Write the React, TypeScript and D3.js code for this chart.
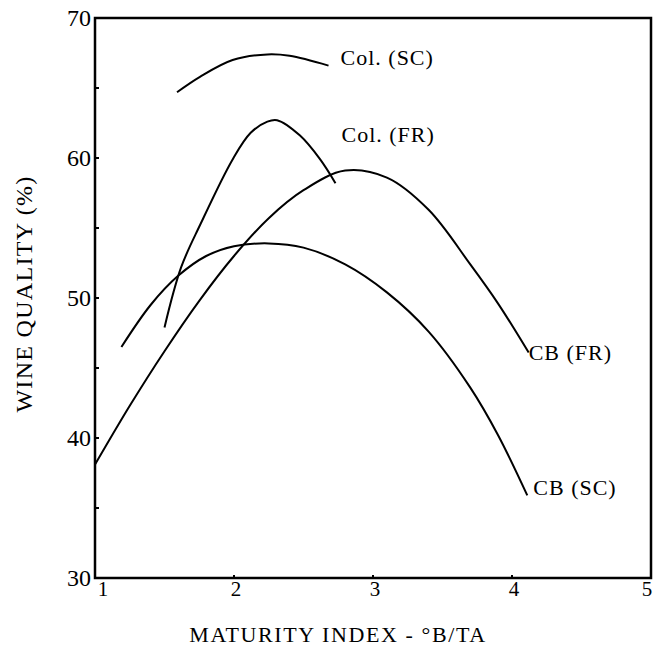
import * as d3 from 'd3';
import React from 'react';

// curves: maturity index (x) vs wine quality % (y)
const cbFrX = [1.0, 1.25, 1.5, 1.75, 2.0, 2.25, 2.5, 2.8, 3.1, 3.4, 3.7, 3.9, 4.12];
const cbFrY = [38.1, 42.3, 46.2, 49.8, 53.0, 55.7, 57.7, 59.1, 58.6, 56.3, 52.4, 49.6, 46.1];

const cbScX = [1.19, 1.4, 1.6, 1.8, 2.0, 2.25, 2.5, 2.8, 3.1, 3.4, 3.7, 3.9, 4.11];
const cbScY = [46.5, 49.5, 51.6, 53.0, 53.7, 53.9, 53.6, 52.4, 50.4, 47.6, 43.6, 40.2, 35.9];

const colFrX = [1.5, 1.62, 1.76, 1.99, 2.12, 2.24, 2.31, 2.475, 2.62, 2.73];
const colFrY = [47.9, 52.2, 55.3, 59.9, 61.8, 62.6, 62.7, 61.6, 59.9, 58.2];

const colScX = [1.59, 1.755, 1.99, 2.24, 2.4, 2.68];
const colScY = [64.7, 65.8, 67.0, 67.4, 67.3, 66.6];

const seriesNames = ['CB (FR)', 'CB (SC)', 'Col. (FR)', 'Col. (SC)'];
const xTicks = [1, 2, 3, 4, 5];
const yTicks = [30, 40, 50, 60, 70];
const yMinorTicks = [35, 45, 55, 65];

const W = 656;
const H = 657;
const margin = { top: 18, right: 5, bottom: 79, left: 95 };
const serif = '"Liberation Serif", "DejaVu Serif", serif';

const App = () => {
  const x = d3.scaleLinear().domain([1, 5]).range([margin.left, W - margin.right]);
  const y = d3.scaleLinear().domain([30, 70]).range([H - margin.bottom, margin.top]);

  const line = d3
    .line<[number, number]>()
    .x((d) => x(d[0]))
    .y((d) => y(d[1]))
    .curve(d3.curveCatmullRom.alpha(0.5));

  const zip = (xs: number[], ys: number[]) => xs.map((v, i) => [v, ys[i]] as [number, number]);
  const series = [zip(cbFrX, cbFrY), zip(cbScX, cbScY), zip(colFrX, colFrY), zip(colScX, colScY)];

  // label anchor next to each curve's end, in data units
  const labelPos = [
    { x: cbFrX[cbFrX.length - 1], y: cbFrY[cbFrY.length - 1], dx: 0, dy: 7 },
    { x: cbScX[cbScX.length - 1], y: cbScY[cbScY.length - 1], dx: 6, dy: 0 },
    { x: colFrX[colFrX.length - 1], y: colFrY[colFrY.length - 1], dx: 6, dy: -41 },
    { x: colScX[colScX.length - 1], y: colScY[colScY.length - 1], dx: 12, dy: -1 },
  ];

  const x0 = x(1);
  const x1 = x(5);
  const y0 = y(30);
  const y1 = y(70);

  return (
    <svg
      width={W}
      height={H}
      style={{ position: 'absolute', left: 0, top: 0, background: '#fff' }}
      fontFamily={serif}
    >
      <rect x={0} y={0} width={W} height={H} fill="#fff" />
      {/* frame */}
      <path
        d={`M${x0},${y0}V${y1}H${x1}V${y0}Z`}
        fill="none"
        stroke="#000"
        strokeWidth={2.5}
      />
      {/* y ticks */}
      {yTicks.concat(yMinorTicks).map((t) => (
        <line key={'yt' + t} x1={x0} x2={x0 + 4} y1={y(t)} y2={y(t)} stroke="#000" strokeWidth={2} />
      ))}
      {yTicks.map((t) => (
        <text key={'yl' + t} x={x0 - 4} y={y(t) + 8} textAnchor="end" fontSize={24} fill="#000">
          {t}
        </text>
      ))}
      {/* x ticks */}
      {xTicks.map((t) => (
        <line key={'xt' + t} x1={x(t)} x2={x(t)} y1={y0} y2={y0 - 3} stroke="#000" strokeWidth={2} />
      ))}
      {xTicks.map((t) => (
        <text
          key={'xl' + t}
          x={x(t) + (t === 1 ? 8 : t === 5 ? -4 : 2)}
          y={y0 + 18}
          textAnchor="middle"
          fontSize={21}
          fill="#000"
        >
          {t}
        </text>
      ))}
      {/* curves */}
      {series.map((s, i) => (
        <path key={'s' + i} d={line(s) || ''} fill="none" stroke="#000" strokeWidth={2} />
      ))}
      {labelPos.map((p, i) => (
        <text
          key={'lb' + i}
          x={x(p.x) + p.dx}
          y={y(p.y) + p.dy}
          fontSize={22}
          letterSpacing={1}
          fill="#000"
        >
          {seriesNames[i]}
        </text>
      ))}
      {/* axis titles */}
      <text x={338} y={642} textAnchor="middle" fontSize={22} letterSpacing={1.6} fill="#000">
        MATURITY INDEX - °B/TA
      </text>
      <text
        transform={`translate(32,294) rotate(-90)`}
        textAnchor="middle"
        fontSize={24}
        letterSpacing={1.3}
        fill="#000"
      >
        WINE QUALITY (%)
      </text>
    </svg>
  );
};

export default App;
